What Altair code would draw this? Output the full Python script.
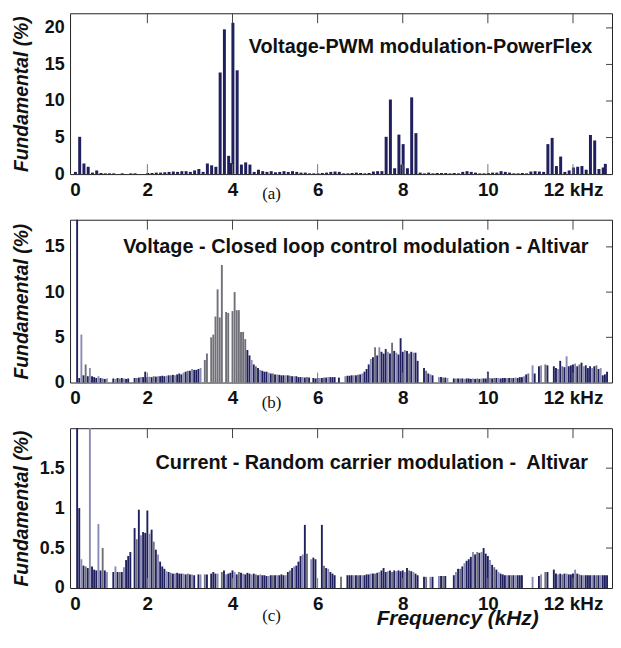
import altair as alt
import pandas as pd

# ---------------- data ----------------
X_DOMAIN = [0.3, 12.8]
X_TICK_VALUES = [0.3, 2, 4, 6, 8, 10, 12]
INNER_TICKS = [2, 4, 6, 8, 10, 12]

TITLES = [
    "Voltage-PWM modulation-PowerFlex",
    "Voltage - Closed loop control modulation - Altivar",
    "Current - Random carrier modulation -\u00a0 Altivar",
]
PANEL_LABELS = ["(a)", "(b)", "(c)"]
Y_TITLE = "Fundamental (%)"
X_TITLE = "Frequency (kHz)"
Y_DOMAINS = [[0, 22], [0, 18], [0, 2.0]]
Y_TICKS = [[0, 5, 10, 15, 20], [0, 5, 10, 15], [0, 0.5, 1, 1.5]]

# panel (a): one bar every 0.1 kHz, rows start at the given frequency (kHz)
A_STEP = 0.1
A_ROWS = {
    0.31: [0.3, 5.1, 1.45, 1.0, 0.2, 0.5, 0.15, 0.1, 0.1, 0.1],
    1.31: [0.0, 0.1, 0.0, 0.1, 0.1, 0.0, 0.0, 0.15, 0.15, 0.2],
    2.31: [0.2, 0.25, 0.3, 0.35, 0.3, 0.4, 0.4, 0.3, 0.5, 0.7],
    3.31: [0.3, 1.45, 1.2, 1.0, 13.9, 19.8, 2.5, 20.7, 14.2, 1.3],
    4.31: [1.6, 1.3, 0.3, 0.6, 0.4, 0.3, 0.4, 0.25, 0.3, 0.4],
    5.31: [0.3, 0.4, 0.3, 0.2, 0.2, 0.1, 0.1, 0.1, 0.15, 0.2],
    6.31: [0.3, 0.35, 0.3, 0.1, 0.1, 0.15, 0.2, 0.15, 0.1, 0.15],
    7.31: [0.35, 0.4, 0.4, 5.1, 10.2, 0.8, 5.4, 4.1, 0.8, 10.5],
    8.31: [5.6, 0.2, 0.1, 0.2, 0.1, 0.15, 0.15, 0.15, 0.1, 0.15],
    9.31: [0.1, 0.3, 0.4, 0.3, 0.2, 0.1, 0.1, 0.15, 0.2, 0.2],
    10.31: [0.4, 0.3, 0.2, 0.1, 0.1, 0.15, 0.1, 0.35, 0.4, 0.35],
    11.31: [0.3, 4.1, 4.95, 1.1, 2.4, 0.3, 0.5, 0.9, 1.0, 1.1],
    12.31: [0.6, 5.35, 4.6, 0.7, 0.9],
}
A_EXTRA_F = [3.96, 7.98, 12.76]
A_EXTRA_V = [1.5, 1.3, 1.4]

# panels (b) and (c): one bar every 0.05 kHz
BC_STEP = 0.05
B_ROWS = {
    0.35: [100, 0.5, 5.3, 0.8, 2.0, 0.7, 1.6, 0.7, 0.6, 0.5, 0.7, 0.5, 0.45, 0.4, 0.45, 0, 0, 0.45, 0.4, 0.5],
    1.35: [0.45, 0.5, 0.45, 0.4, 0.45, 0, 0, 0.5, 0.5, 0.55, 0.6, 0.6, 1.2, 0.6, 0.65, 0.6, 0.7, 0.65, 0.7, 0.7],
    2.35: [0.75, 0.7, 0.75, 0.8, 0.8, 0.85, 0.8, 0.9, 1.0, 0.9, 1.1, 1.2, 1.3, 1.3, 1.5, 1.4, 1.4, 1.5, 1.6, 0],
    3.35: [2.5, 3.2, 0, 5.0, 5.3, 7.3, 10.3, 7.2, 13.0, 0, 7.8, 7.7, 0, 7.9, 10.0, 8.0, 8.0, 5.6, 5.6, 4.8],
    4.35: [3.6, 3.0, 2.5, 2.0, 1.8, 1.6, 1.4, 1.3, 1.2, 1.2, 1.1, 1.0, 1.0, 0.9, 0.9, 0.85, 0.8, 0.8, 0.8, 0.8],
    5.35: [0.75, 0.7, 0.7, 0.7, 0.6, 0.6, 0.6, 0.55, 0.6, 0.55, 0, 0.5, 0.45, 0.5, 0.5, 0.5, 0.55, 0.55, 0.6, 0.6],
    6.35: [0.6, 0.6, 0, 0.55, 0, 0, 0.7, 0.75, 0.75, 0.8, 0.8, 0.8, 0.85, 0.9, 1.0, 1.2, 1.5, 2.0, 2.6, 2.8],
    7.35: [3.9, 3.0, 3.9, 3.4, 3.2, 3.7, 3.4, 3.2, 4.4, 3.5, 3.3, 3.1, 4.9, 3.4, 3.6, 3.5, 3.2, 3.4, 3.3, 3.3],
    8.35: [2.4, 0, 0, 1.6, 1.3, 1.0, 0.9, 0.8, 0, 0, 0.6, 0.6, 0.55, 0.55, 0.5, 0, 0, 0.45, 0.45, 0.45],
    9.35: [0.45, 0.45, 0.4, 0.45, 0.45, 0.4, 0.45, 0.4, 0.45, 0.4, 0.45, 0.45, 0.45, 1.2, 0.5, 0.45, 0.5, 0.5, 0.5, 0.45],
    10.35: [0.5, 0.5, 0.5, 0.5, 0.5, 0.5, 0.55, 0.5, 0.6, 0.6, 0.7, 0.9, 1.0, 0, 1.9, 1.0, 0, 1.8, 1.9, 0],
    11.35: [2.0, 1.9, 0, 0, 1.8, 1.6, 1.5, 2.4, 1.8, 1.7, 2.9, 1.8, 1.9, 2.0, 2.1, 1.8, 2.0, 2.2, 1.8, 1.9],
    12.35: [1.6, 1.8, 1.6, 1.8, 1.9, 1.5, 1.6, 0.8, 0.9, 1.2],
}
C_ROWS = {
    0.35: [100, 1.0, 0.36, 0.28, 0.27, 0.25, 100, 0.27, 0.23, 0.22, 0.8, 0.22, 0.5, 0.22, 0.2, 0, 0, 0.2, 0.27, 0.2],
    1.35: [0.2, 0.2, 0.26, 0.35, 0.4, 0.45, 0, 0.75, 0.61, 0.98, 0.66, 0.7, 0.69, 0.97, 0.68, 0.73, 0.58, 0.48, 0.42, 0.33],
    2.35: [0.27, 0.24, 0.21, 0.2, 0.19, 0.18, 0.18, 0.19, 0.18, 0.18, 0.18, 0.17, 0.18, 0.17, 0.17, 0.16, 0, 0.17, 0.17, 0],
    3.35: [0.17, 0.17, 0, 0.18, 0.2, 0.18, 0.18, 0, 0.2, 0.22, 0.17, 0.18, 0.19, 0.22, 0.2, 0.17, 0.2, 0.19, 0.18, 0.17],
    4.35: [0.19, 0.18, 0.17, 0.18, 0.17, 0.16, 0.17, 0.16, 0.16, 0.15, 0.15, 0.16, 0.16, 0.16, 0.16, 0.16, 0.17, 0.16, 0.16, 0.2],
    5.35: [0.22, 0.25, 0.27, 0.28, 0.33, 0.4, 0.42, 0.79, 0.43, 0, 0.36, 0.38, 0.36, 0, 0, 0.79, 0.28, 0.25, 0.24, 0.2],
    6.35: [0.18, 0.16, 0, 0, 0.14, 0, 0, 0.16, 0.16, 0.16, 0.16, 0.16, 0.16, 0.16, 0.16, 0.16, 0.17, 0.17, 0.18, 0.18],
    7.35: [0.18, 0.19, 0.2, 0.22, 0.25, 0.2, 0.21, 0.22, 0.2, 0.22, 0.21, 0.22, 0.21, 0.22, 0.2, 0.25, 0.22, 0.21, 0.2, 0.18],
    8.35: [0.16, 0, 0, 0.14, 0.14, 0, 0.14, 0.14, 0, 0, 0.15, 0.15, 0.15, 0.15, 0, 0, 0, 0.16, 0.2, 0.24],
    9.35: [0.24, 0.27, 0.31, 0.34, 0.36, 0.39, 0.45, 0.42, 0.45, 0.44, 0.45, 0.5, 0.43, 0.4, 0.35, 0.29, 0.26, 0.23, 0.2, 0.18],
    10.35: [0.17, 0.16, 0.16, 0.16, 0.16, 0.16, 0.16, 0.16, 0.16, 0.16, 0, 0, 0, 0, 0.14, 0, 0, 0.15, 0.17, 0],
    11.35: [0.2, 0.2, 0, 0, 0.23, 0.18, 0.17, 0.18, 0.17, 0.18, 0.18, 0.17, 0.17, 0.18, 0.23, 0.18, 0.17, 0.16, 0.16, 0.16],
    12.35: [0.16, 0.16, 0.16, 0.16, 0.16, 0.16, 0.16, 0.16, 0.16, 0.16],
}

# ---------------- styling ----------------
FONT = "Liberation Sans"
SERIF = "Liberation Serif"
W = 546
HEIGHTS = [162, 164, 161]
TONE_DOMAIN = ["navy", "lav", "gray"]
TONE_RANGE = ["#20205e", "#8a8ab6", "#707079"]
TONE_CYCLE = ["navy", "navy", "lav", "navy", "gray", "navy", "lav", "navy"]


def rows_to_df(rows, step):
    recs = []
    for start, vals in rows.items():
        for j, v in enumerate(vals):
            recs.append({"f": round(start + step * j, 3), "v": v})
    return pd.DataFrame(recs)


df_a = rows_to_df(A_ROWS, A_STEP)
df_a = pd.concat([df_a, pd.DataFrame({"f": A_EXTRA_F, "v": A_EXTRA_V})], ignore_index=True)
df_a = df_a[df_a["v"] > 0].sort_values("f").reset_index(drop=True)
df_a["tone"] = "navy"

df_b = rows_to_df(B_ROWS, BC_STEP)
df_b["tone"] = [TONE_CYCLE[i % len(TONE_CYCLE)] for i in range(len(df_b))]
df_b.loc[(df_b["f"] >= 3.3) & (df_b["f"] <= 4.3), "tone"] = "gray"
df_b = df_b[df_b["v"] > 0]

df_c = rows_to_df(C_ROWS, BC_STEP)
df_c["tone"] = [TONE_CYCLE[i % len(TONE_CYCLE)] for i in range(len(df_c))]
df_c = df_c[df_c["v"] > 0]

X_LABEL_EXPR = "datum.value < 1 ? '0' : (datum.value == 12 ? '12 kHz' : format(datum.value, 'd'))"


def panel(df, idx, bar_size, title_xy, label_dy, xtitle=False):
    h = HEIGHTS[idx]
    xs = alt.Scale(domain=X_DOMAIN, nice=False, zero=False)
    ys = alt.Scale(domain=Y_DOMAINS[idx], nice=False, zero=True, clamp=True)

    xaxis_kw = dict(
        values=X_TICK_VALUES, labelExpr=X_LABEL_EXPR, labelFlush=False,
        ticks=False, domain=False, grid=False,
        labelFont=FONT, labelFontSize=19, labelFontWeight="bold",
        labelColor="#111111", labelPadding=6.5,
    )
    if xtitle:
        xaxis_kw.update(
            title=X_TITLE, titleFont=FONT, titleFontSize=21, titleFontStyle="italic",
            titleFontWeight="bold", titleColor="#111111", titleX=390, titleY=20,
        )
    else:
        xaxis_kw["title"] = None
    xaxis = alt.Axis(**xaxis_kw)

    yaxis = alt.Axis(
        values=Y_TICKS[idx], format="~g", ticks=False, domain=False, grid=False,
        labelFont=FONT, labelFontSize=18, labelFontWeight="bold",
        labelColor="#111111", labelPadding=6,
        title=Y_TITLE, titleFont=FONT, titleFontSize=19.5, titleFontStyle="italic",
        titleFontWeight="bold", titleColor="#111111", titleX=-39,
    )

    bars = alt.Chart(df).mark_bar(size=bar_size, orient="vertical").encode(
        x=alt.X("f:Q", scale=xs, axis=xaxis),
        y=alt.Y("v:Q", scale=ys, axis=yaxis),
        color=alt.Color("tone:N", scale=alt.Scale(domain=TONE_DOMAIN, range=TONE_RANGE), legend=None),
    )

    tick_df = pd.DataFrame({"f": INNER_TICKS})
    top_ticks = alt.Chart(tick_df).mark_rule(color="#444444", strokeWidth=1).encode(
        x=alt.X("f:Q", scale=xs, axis=xaxis), y=alt.value(0), y2=alt.value(10)
    )
    bottom_ticks = alt.Chart(tick_df).mark_rule(color="#777777", strokeWidth=1).encode(
        x=alt.X("f:Q", scale=xs, axis=xaxis), y=alt.value(h), y2=alt.value(h - 10)
    )
    ytick_df = pd.DataFrame({"v": [t for t in Y_TICKS[idx] if t > 0]})
    right_ticks = alt.Chart(ytick_df).mark_rule(color="#444444", strokeWidth=1).encode(
        y=alt.Y("v:Q", scale=ys, axis=yaxis), x=alt.value(W - 6), x2=alt.value(W)
    )

    title_txt = alt.Chart(pd.DataFrame({"t": [TITLES[idx]]})).mark_text(
        font=FONT, fontSize=20, fontWeight="bold", color="#111111",
        align="center", baseline="middle",
    ).encode(x=alt.value(title_xy[0]), y=alt.value(title_xy[1]), text="t:N")

    label_txt = alt.Chart(pd.DataFrame({"t": [PANEL_LABELS[idx]]})).mark_text(
        font=SERIF, fontSize=17, color="#111111", align="center", baseline="middle",
    ).encode(x=alt.value(203), y=alt.value(h + label_dy), text="t:N")

    return alt.layer(bars, top_ticks, bottom_ticks, right_ticks, title_txt, label_txt).properties(
        width=W, height=h
    )


pa = panel(df_a, 0, 3, (353, 34), 20)
pb = panel(df_b, 1, 1.9, (288, 28), 21)
pc = panel(df_c, 2, 1.9, (304, 35), 28, xtitle=True)

chart = alt.vconcat(pa, pb, pc, spacing=46, bounds="flush").properties(
    padding={"left": 2.5, "top": 2, "right": 0, "bottom": 0}
).configure_view(stroke="#222222", strokeWidth=1)

chart.save("out.html", embed_options={"renderer": "svg", "actions": False})
